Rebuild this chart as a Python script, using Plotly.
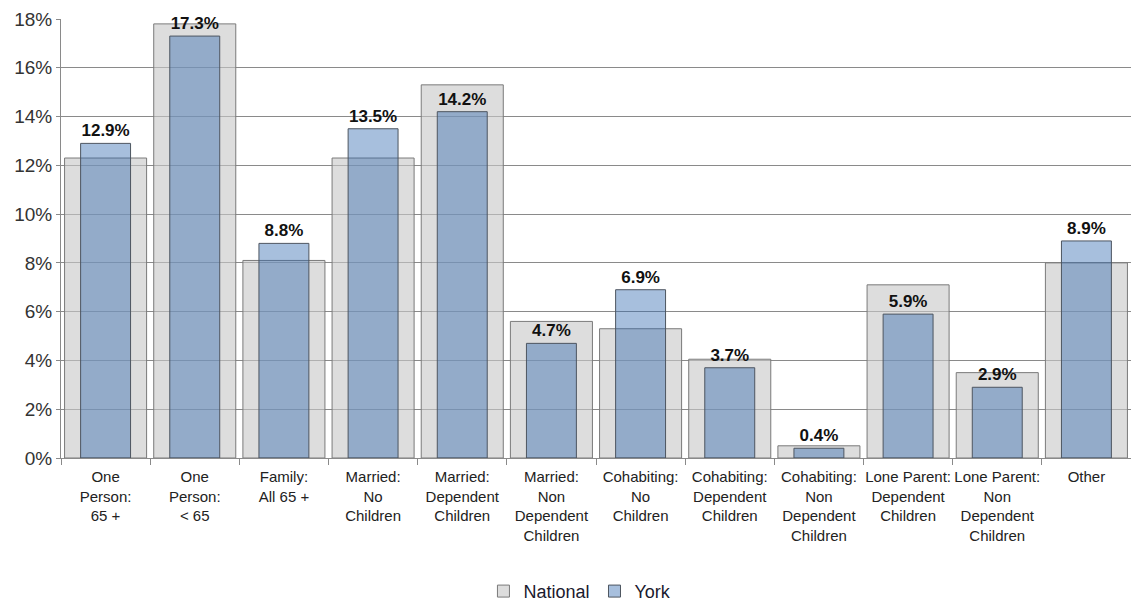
import plotly.graph_objects as go

categories = [
    "One<br>Person:<br>65 +",
    "One<br>Person:<br>< 65",
    "Family:<br>All 65 +",
    "Married:<br>No<br>Children",
    "Married:<br>Dependent<br>Children",
    "Married:<br>Non<br>Dependent<br>Children",
    "Cohabiting:<br>No<br>Children",
    "Cohabiting:<br>Dependent<br>Children",
    "Cohabiting:<br>Non<br>Dependent<br>Children",
    "Lone Parent:<br>Dependent<br>Children",
    "Lone Parent:<br>Non<br>Dependent<br>Children",
    "Other",
]
national = [12.3, 17.8, 8.1, 12.3, 15.3, 5.6, 5.3, 4.05, 0.5, 7.1, 3.5, 8.0]
york = [12.9, 17.3, 8.8, 13.5, 14.2, 4.7, 6.9, 3.7, 0.4, 5.9, 2.9, 8.9]

fig = go.Figure()
fig.add_trace(go.Bar(
    x=categories, y=national, name="National", width=0.92,
    marker=dict(color="rgba(200,200,200,0.62)", line=dict(color="#7a7a7a", width=1)),
    hoverinfo="skip",
))
fig.add_trace(go.Bar(
    x=categories, y=york, name="York", width=0.56,
    marker=dict(color="rgba(45,102,174,0.42)", line=dict(color="#4d5560", width=1)),
    text=[f"{v:.1f}%" for v in york], textposition="outside",
    textfont=dict(family="Liberation Sans, Arial", size=17, color="#111111"),
    texttemplate="<b>%{text}</b>", cliponaxis=False,
))

fig.update_layout(
    barmode="overlay",
    width=1131, height=601,
    margin=dict(l=61, r=0, t=19, b=143, autoexpand=False),
    paper_bgcolor="white", plot_bgcolor="white",
    font=dict(family="Liberation Sans, Arial", color="#222222"),
    legend=dict(orientation="h", x=0.485, xanchor="center", yref="container",
                y=0.016, yanchor="middle",
                font=dict(size=18, color="#1a1a2e"), itemwidth=30,
                traceorder="normal"),
    showlegend=True,
)
fig.update_yaxes(
    range=[0, 18], dtick=2, ticksuffix="%", showgrid=True, gridcolor="#8a8a8a", gridwidth=1,
    showline=True, linecolor="#8a8a8a", ticks="outside", ticklen=4, tickcolor="#8a8a8a",
    tickfont=dict(size=19, color="#333333"), zeroline=False, automargin=False,
)
fig.update_xaxes(
    showline=True, linecolor="#8a8a8a", ticks="outside", tickson="boundaries", ticklen=6,
    tickcolor="#8a8a8a", tickfont=dict(size=15, color="#222222"), showgrid=False,
    tickangle=0, automargin=False, ticklabelstandoff=5,
)

fig.write_html("out.html", config={"displayModeBar": False},
               post_script="document.body.style.margin='0';document.body.style.overflow='hidden';")
